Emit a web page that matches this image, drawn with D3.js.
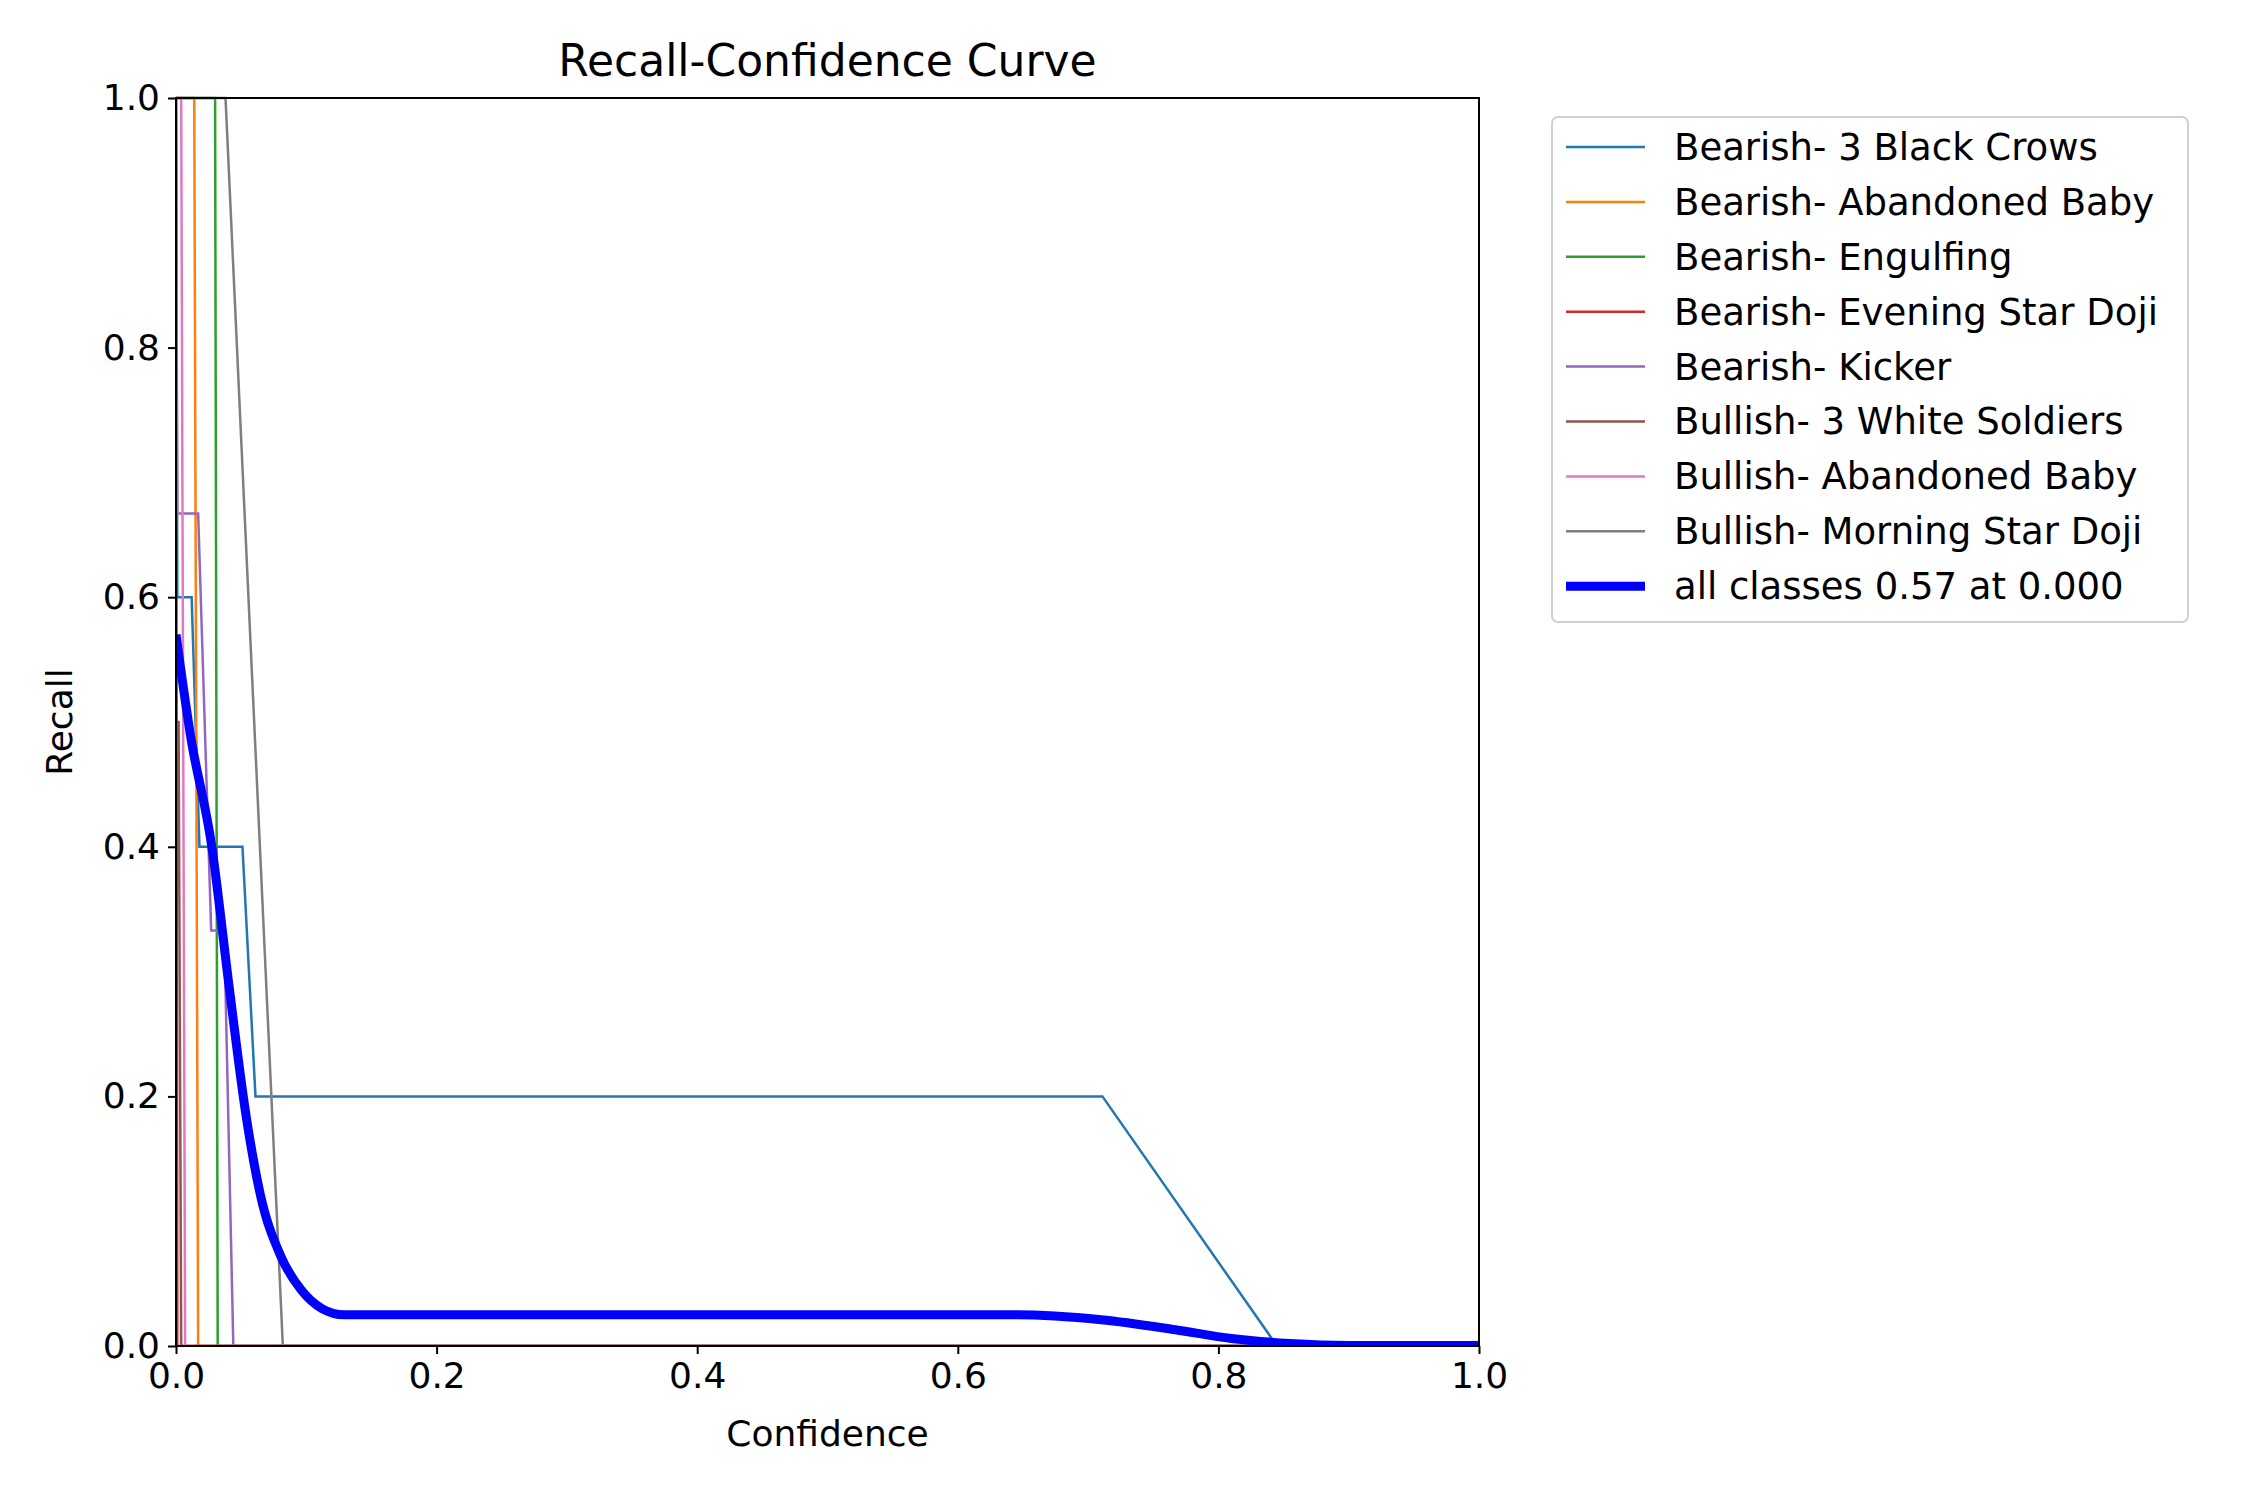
<!DOCTYPE html>
<html>
<head>
<meta charset="utf-8">
<script src="https://cdn.jsdelivr.net/npm/d3@7"></script>
<style>
  body { margin: 0; background: #fff; }
  text { font-family: "DejaVu Sans", sans-serif; }
</style>
</head>
<body>
<svg id="chart" width="2250" height="1500"></svg>
<script>
const classNames = [
    "Bearish- 3 Black Crows",
    "Bearish- Abandoned Baby",
    "Bearish- Engulfing",
    "Bearish- Evening Star Doji",
    "Bearish- Kicker",
    "Bullish- 3 White Soldiers",
    "Bullish- Abandoned Baby",
    "Bullish- Morning Star Doji"
];
const classColors = ["#1f77b4", "#ff7f0e", "#2ca02c", "#d62728", "#9467bd", "#8c564b", "#e377c2", "#7f7f7f"];

// [confidence, recall] pairs
const crowsPts = [[0, 1], [0.001, 0.6], [0.012, 0.6], [0.018, 0.4], [0.051, 0.4], [0.061, 0.2], [0.711, 0.2], [0.845, 0], [1, 0]];
const abandonedBearPts = [[0, 1], [0.014, 1], [0.017, 0], [1, 0]];
const engulfingPts = [[0, 1], [0.030, 1], [0.032, 0], [1, 0]];
const eveningPts = [[0, 1], [0.001, 0], [1, 0]];
const kickerPts = [[0, 1], [0.001, 0.667], [0.017, 0.667], [0.027, 0.333], [0.037, 0.333], [0.044, 0], [1, 0]];
const whiteSoldiersPts = [[0, 0.5], [0.002, 0.5], [0.004, 0], [1, 0]];
const abandonedBullPts = [[0, 1], [0.004, 1], [0.007, 0], [1, 0]];
const morningPts = [[0, 1], [0.038, 1], [0.082, 0], [1, 0]];
const classSeries = [crowsPts, abandonedBearPts, engulfingPts, eveningPts, kickerPts, whiteSoldiersPts, abandonedBullPts, morningPts];

const allPts = [[0, 0.57], [0.011, 0.49], [0.0275, 0.40], [0.041, 0.286], [0.054, 0.183], [0.065, 0.12],
    [0.08, 0.073], [0.096, 0.045], [0.112, 0.03], [0.129, 0.025], [0.3, 0.025], [0.5, 0.025], [0.645, 0.025],
    [0.71, 0.021], [0.767, 0.013], [0.81, 0.006], [0.855, 0.002], [0.9, 0.0005], [1, 0.0005]];
const allLabel = "all classes 0.57 at 0.000";

const ticks = [0, 0.2, 0.4, 0.6, 0.8, 1.0];

const m = { left: 176, right: 1479, top: 98, bottom: 1346 };
const svg = d3.select("#chart");

const x = d3.scaleLinear().domain([0, 1]).range([m.left, m.right]);
const y = d3.scaleLinear().domain([0, 1]).range([m.bottom, m.top]);

svg.append("defs").append("clipPath").attr("id", "clip")
    .append("rect").attr("x", m.left).attr("y", m.top - 5)
    .attr("width", m.right - m.left).attr("height", m.bottom - m.top + 5);

const line = d3.line().x(d => x(d[0])).y(d => y(d[1]));
const plot = svg.append("g").attr("clip-path", "url(#clip)");

classSeries.forEach((pts, i) => {
    plot.append("path").attr("d", line(pts))
        .attr("fill", "none").attr("stroke", classColors[i]).attr("stroke-width", 2.5);
});
const smooth = d3.line().x(d => x(d[0])).y(d => y(d[1])).curve(d3.curveMonotoneX);
plot.append("path").attr("d", smooth(allPts))
    .attr("fill", "none").attr("stroke", "#0000ff").attr("stroke-width", 9);

// axes
const xAxis = svg.append("g").attr("transform", `translate(0,${m.bottom})`)
    .call(d3.axisBottom(x).tickValues(ticks).tickFormat(d3.format(".1f")).tickSize(8).tickPadding(8));
const yAxis = svg.append("g").attr("transform", `translate(${m.left},0)`)
    .call(d3.axisLeft(y).tickValues(ticks).tickFormat(d3.format(".1f")).tickSize(8).tickPadding(8));
[xAxis, yAxis].forEach(a => {
    a.select(".domain").remove();
    a.selectAll("line").attr("stroke-width", 2);
    a.selectAll("text").style("font-size", "36px").style("font-family", "DejaVu Sans").attr("fill", "#000");
});
svg.append("rect").attr("x", m.left).attr("y", m.top)
    .attr("width", m.right - m.left).attr("height", m.bottom - m.top)
    .attr("fill", "none").attr("stroke", "#000").attr("stroke-width", 2);

svg.append("text").attr("x", (m.left + m.right) / 2).attr("y", 76)
    .attr("text-anchor", "middle").style("font-size", "44px").text("Recall-Confidence Curve");
svg.append("text").attr("x", (m.left + m.right) / 2).attr("y", 1446)
    .attr("text-anchor", "middle").style("font-size", "36px").text("Confidence");
svg.append("text").attr("transform", `translate(72,${(m.top + m.bottom) / 2}) rotate(-90)`)
    .attr("text-anchor", "middle").style("font-size", "36px").text("Recall");

// legend
const lg = svg.append("g").attr("transform", "translate(1552,117)");
lg.append("rect").attr("x", 0).attr("y", 0).attr("width", 636).attr("height", 505)
    .attr("rx", 6).attr("fill", "#fff").attr("stroke", "#d0d0d0").attr("stroke-width", 2);
const legendItems = classNames.map((n, i) => ({ label: n, color: classColors[i], w: 2.5 }))
    .concat([{ label: allLabel, color: "#0000ff", w: 9 }]);
legendItems.forEach((item, i) => {
    const cy = 30 + i * 54.9;
    lg.append("line").attr("x1", 14).attr("x2", 93).attr("y1", cy).attr("y2", cy)
        .attr("stroke", item.color).attr("stroke-width", item.w);
    lg.append("text").attr("x", 122).attr("y", cy).attr("dy", "0.35em")
        .style("font-size", "37px").text(item.label);
});
</script>
</body>
</html>
